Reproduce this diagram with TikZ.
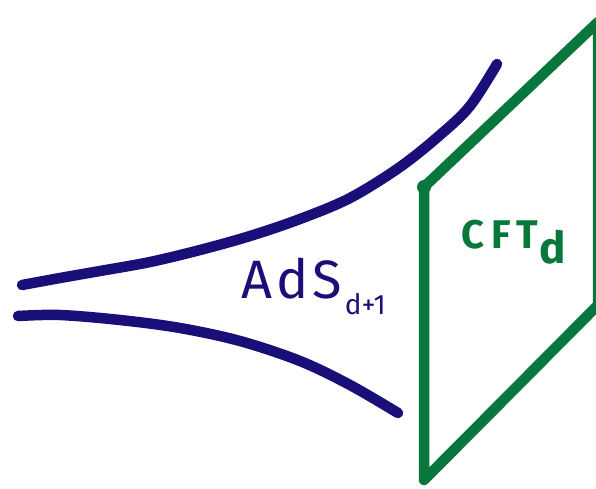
\documentclass[tikz,border=0pt]{standalone}
\usepackage{fontspec}
\setmainfont{Fira Sans}
\definecolor{navy}{HTML}{1A0F78}
\definecolor{cftgreen}{HTML}{08773C}
\begin{document}
\begin{tikzpicture}[x=1pt,y=-1pt,
  bulk/.style={draw=navy,line width=10.5pt,line cap=round,line join=round},
  brane/.style={draw=cftgreen,line width=10.5pt,line cap=round,line join=round}]
\useasboundingbox (0,0) rectangle (596,488);
\clip (0,0) rectangle (596,488);
\draw[bulk] plot[smooth,tension=0.55] coordinates {(22,285) (60,278) (100,271) (150,262) (200,250) (250,236) (300,219) (350,198) (400,167) (440,135) (470,106) (497,64)};
\draw[bulk] plot[smooth,tension=0.55] coordinates {(18,316) (60,315) (120,320) (180,328) (240,341) (300,361) (350,385) (398,413)};
\coordinate (tl) at (424,187);
\coordinate (tr) at (598,22);
\coordinate (br) at (598,305);
\coordinate (bl) at (424,480);
\draw[brane] (tr) -- (tl) -- (bl) -- (br) -- cycle;
\fill[cftgreen] (tl) circle (7);
\node[navy,font=\fontsize{54}{56}\selectfont,anchor=base west,inner sep=0] (ads) at (241,298) {A\hspace{4pt}d\hspace{4pt}S\hspace{3pt}\raisebox{-0.3em}{\fontsize{28}{30}\selectfont d+1}};
\node[cftgreen,font=\bfseries\fontsize{40}{42}\selectfont,anchor=base west,inner sep=0] (cft) at (461,248) {C\hspace{7pt}F\hspace{6pt}T\hspace{1pt}\raisebox{-0.38em}{\fontsize{44}{46}\selectfont d}};
\end{tikzpicture}
\end{document}
